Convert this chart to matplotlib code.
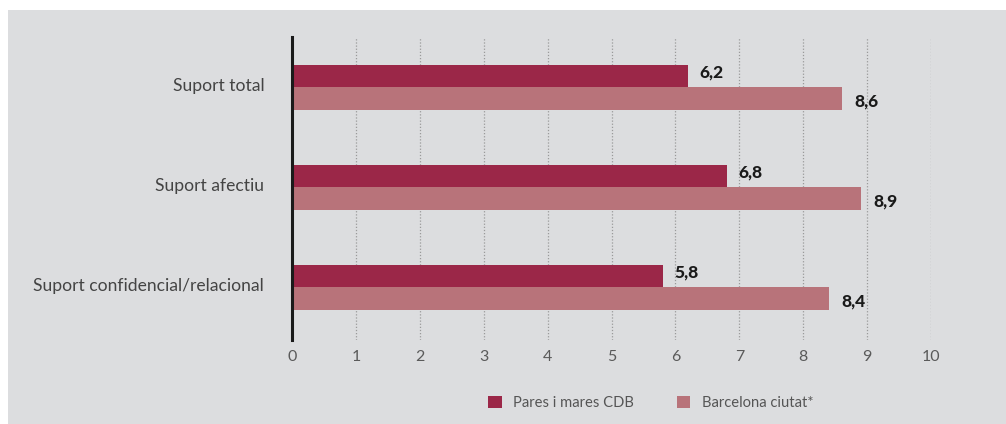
import matplotlib
matplotlib.use("Agg")
import matplotlib.pyplot as plt
import numpy as np
from matplotlib.patches import Rectangle

categories = ["Suport total", "Suport afectiu", "Suport confidencial/relacional"]
pares_cdb = [6.2, 6.8, 5.8]
barcelona = [8.6, 8.9, 8.4]
series_names = ["Pares i mares CDB", "Barcelona ciutat*"]

DARK, LIGHT, BG = "#9b2748", "#b8737a", "#dcdddf"
FONT = ["Lato", "DejaVu Sans"]

fig = plt.figure(figsize=(10.06, 4.24), dpi=100)
fig.patch.set_facecolor("white")
fig.patches.append(Rectangle((8 / 1006, 0), 1, 414 / 424, transform=fig.transFigure,
                             facecolor=BG, edgecolor="none", zorder=-10))

ax = fig.add_axes([292 / 1006, 84 / 424, 639 / 1006, 303 / 424])
ax.set_facecolor("none")

y = np.arange(len(categories))
h = 0.225
ax.barh(y - h / 2, pares_cdb, h, color=DARK, label=series_names[0], zorder=3)
ax.barh(y + h / 2, barcelona, h, color=LIGHT, label=series_names[1], zorder=3)

for i, v in enumerate(pares_cdb):
    ax.text(v + 0.18, y[i] - h / 2 - 0.03, f"{v:.1f}".replace(".", ","), va="center",
            fontsize=12.5, fontweight="black", family=FONT, color="#1a1a1a")
for i, v in enumerate(barcelona):
    ax.text(v + 0.2, y[i] + h / 2 + 0.03, f"{v:.1f}".replace(".", ","), va="center",
            fontsize=12.5, fontweight="black", family=FONT, color="#1a1a1a")

ax.set_xlim(0, 10)
ax.set_ylim(2.53, -0.5)
ax.set_xticks(range(11))
ax.set_xticklabels([str(i) for i in range(11)], family=FONT, fontsize=11.5, color="#5a5a5a")
# category labels sit a touch above the bar pair
ax.set_yticks(y - 0.03)
ax.set_yticklabels(categories, family=FONT, fontsize=12.6, color="#444444")
ax.tick_params(axis="both", length=0)
ax.tick_params(axis="y", pad=20)
ax.tick_params(axis="x", pad=7)
for s in ["top", "right", "bottom"]:
    ax.spines[s].set_visible(False)
ax.spines["left"].set_linewidth(2.2)
ax.spines["left"].set_color("#1a1a1a")
ax.spines["left"].set_zorder(4)
ax.grid(axis="x", linestyle=(0, (1, 1.5)), color="#9a9a9a", linewidth=0.9, zorder=0)
ax.set_axisbelow(True)

leg = fig.legend(loc="center", bbox_to_anchor=(651 / 1006, 21 / 424), ncol=2, frameon=False,
                 handlelength=0.9, handleheight=0.9, columnspacing=2.9, handletextpad=0.8,
                 prop={"family": FONT, "size": 10.6})
for t in leg.get_texts():
    t.set_color("#555555")

fig.savefig("out.png", dpi=100)
